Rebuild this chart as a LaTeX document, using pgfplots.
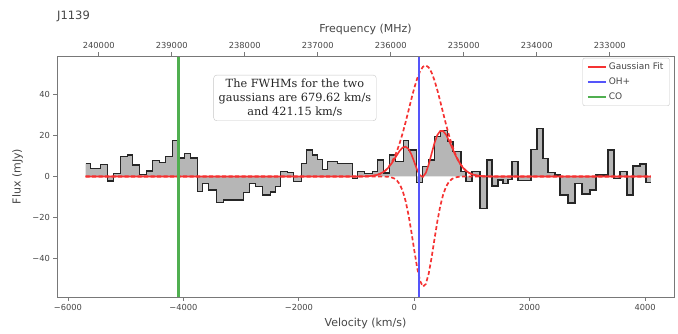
\documentclass[border=0pt]{standalone}
\usepackage{fontspec}
\setmainfont{DejaVu Sans}
\newfontfamily\boxfont{DejaVu Serif}
\usepackage{pgfplots}
\usepackage{pgfplotstable}
\pgfplotsset{compat=1.18}
\definecolor{fitred}{RGB}{245,50,50}
\definecolor{ohblue}{RGB}{85,85,250}
\definecolor{cogreen}{RGB}{80,175,80}
\definecolor{framegray}{RGB}{120,120,120}
\definecolor{textgray}{RGB}{70,70,70}
\definecolor{histfill}{RGB}{182,182,182}

\pgfplotstableread{
v f
-5692 6.2
-5606 4.0
-5433 6.0
-5312 -2.2
-5208 1.6
-5087 9.7
-4966 10.5
-4879 5.6
-4758 1.0
-4637 2.7
-4533 7.7
-4412 6.9
-4308 9.7
-4187 17.5
-4083 9.0
-3980 11.2
-3876 9.0
-3755 -7.4
-3668 -3.3
-3564 -6.6
-3426 -12.8
-3305 -11.5
-3184 -11.5
-3062 -11.5
-2959 -7.9
-2855 -3.3
-2751 -5.0
-2630 -9.0
-2492 -7.5
-2405 -5.0
-2319 2.3
-2197 2.0
-2094 -2.5
-1955 6.4
-1869 12.9
-1765 10.5
-1678 8.4
-1592 3.5
-1505 7.2
-1332 6.4
-1073 -0.9
-986 2.3
-865 1.6
-727 2.3
-640 8.0
-537 1.7
-433 10.5
-329 7.2
-191 17.5
-104 13.0
35 -3.0
138 4.8
242 8.0
346 19.4
450 22.4
571 17.0
674 12.1
813 2.3
899 -2.5
1003 2.3
1142 -15.5
1263 8.0
1349 -4.6
1453 -1.7
1539 -3.3
1626 -1.4
1695 7.2
1799 -2.0
2024 13.3
2128 23.5
2231 8.9
2318 1.9
2439 0.7
2526 -9.0
2664 -13.0
2785 -3.3
2906 -8.5
3045 -6.6
3148 0.7
3356 12.9
3460 -0.9
3564 2.3
3685 -9.0
3788 5.1
3910 6.1
4013 -3.0
4100 -3.0
}\hist

\pgfplotstableread{
v g
-5692 0
-1000 0.01
-900 0.04
-800 0.14
-700 0.44
-650 0.75
-600 1.22
-550 1.94
-500 2.98
-450 4.46
-400 6.47
-350 9.11
-300 12.45
-250 16.51
-200 21.24
-150 26.53
-100 32.15
-50 37.80
0 43.14
50 47.77
100 51.34
150 53.55
200 54.19
250 53.23
300 50.73
350 46.92
400 42.12
450 36.68
500 31.01
550 25.44
600 20.25
650 15.64
700 11.73
750 8.53
800 6.02
850 4.13
900 2.74
950 1.77
1000 1.11
1050 0.67
1100 0.40
1150 0.23
1200 0.13
1300 0.04
1400 0.01
4100 0
}\gone

\pgfplotstableread{
v g
-5692 0
-700 0
-600 -0.01
-550 -0.02
-500 -0.06
-450 -0.16
-400 -0.40
-350 -0.92
-300 -1.97
-250 -3.89
-200 -7.10
-150 -11.98
-100 -18.70
-50 -27.00
0 -36.06
50 -44.53
100 -50.86
150 -53.72
200 -52.47
250 -47.40
300 -39.60
350 -30.60
400 -21.87
450 -14.45
500 -8.83
550 -4.99
600 -2.61
650 -1.26
700 -0.56
750 -0.23
800 -0.09
850 -0.03
900 -0.01
1000 0
4100 0
}\gtwo

\pgfplotstableread{
v g
-5692 0
-1000 0.01
-900 0.04
-800 0.14
-700 0.44
-650 0.74
-600 1.21
-550 1.92
-500 2.92
-450 4.30
-400 6.07
-350 8.19
-300 10.48
-250 12.62
-200 14.15
-150 14.55
-100 13.45
-50 10.80
0 7.08
50 3.24
100 0.49
150 -0.17
200 1.72
250 5.82
300 11.13
350 16.32
400 20.25
450 22.23
500 22.18
550 20.44
600 17.64
650 14.38
700 11.16
750 8.30
800 5.93
850 4.09
900 2.73
950 1.77
1000 1.11
1050 0.67
1100 0.40
1150 0.23
1200 0.13
1300 0.04
1400 0.01
4100 0
}\gfit

\begin{document}
\begin{tikzpicture}
\begin{axis}[
  at={(0,0)}, anchor=south west,
  scale only axis, width=617bp, height=241bp,
  xmin=-6190, xmax=4500, ymin=-58.8, ymax=58.8,
  axis line style={framegray, line width=0.8bp},
  tick style={framegray, line width=0.8bp},
  major tick length=3.5bp,
  tick align=outside,
  xtick pos=left, ytick pos=left,
  scaled ticks=false,
  xtick={-6000,-4000,-2000,0,2000,4000},
  xticklabels={−6000,−4000,−2000,0,2000,4000},
  ytick={-40,-20,0,20,40},
  yticklabels={−40,−20,0,20,40},
  ticklabel style={font=\fontsize{8.3bp}{10bp}\selectfont, text=textgray},
  xlabel={Velocity (km/s)}, ylabel={Flux (mJy)},
  label style={font=\fontsize{11bp}{13bp}\selectfont, text=textgray},
  xlabel style={at={(axis description cs:0.5,-0.108)}, anchor=center},
  ylabel style={at={(axis description cs:-0.064,0.5)}, anchor=center},
  legend style={at={(axis description cs:0.993,0.992)}, anchor=north east,
    draw=black!22, rounded corners=2bp, fill=white,
    font=\fontsize{9bp}{11bp}\selectfont, text=textgray,
    inner xsep=4bp, inner ysep=2.5bp, row sep=3bp},
  legend cell align=left,
  legend image code/.code={\draw[#1, line width=2bp] (0bp,0bp) -- (18bp,0bp);},
]
\addplot[const plot, fill=histfill, draw=none, forget plot] table[x=v, y=f] {\hist} \closedcycle;
\addplot[const plot, draw=black!85, line width=1.4bp, forget plot] table[x=v, y=f] {\hist};
\addplot[fitred, line width=1.7bp, dash pattern=on 4bp off 2.5bp, forget plot] table[x=v, y=g] {\gone};
\addplot[fitred, line width=1.7bp, dash pattern=on 4bp off 2.5bp, forget plot] table[x=v, y=g] {\gtwo};
\addplot[fitred, line width=1.6bp] table[x=v, y=g] {\gfit};
\addlegendentry{Gaussian Fit}
\addplot[ohblue, line width=2.2bp] coordinates {(87,-58.8) (87,58.8)};
\addlegendentry{OH+}
\addplot[cogreen, line width=2.8bp] coordinates {(-4083,-58.8) (-4083,58.8)};
\addlegendentry{CO}
\node[draw=black!22, rounded corners=3bp, fill=white, align=center,
  font=\boxfont\fontsize{11.3bp}{14bp}\selectfont, text=black!85,
  inner xsep=5bp, inner ysep=4bp] at (axis description cs:0.3857,0.826)
  {The FWHMs for the two\\gaussians are 679.62 km/s\\and 421.15 km/s};
\end{axis}
\begin{axis}[
  at={(0,0)}, anchor=south west,
  scale only axis, width=617bp, height=241bp,
  xmin=232120, xmax=240572, x dir=reverse, ymin=0, ymax=1,
  axis x line*=top, axis y line=none,
  scaled x ticks=false,
  axis line style={framegray, line width=0.8bp},
  tick style={framegray, line width=0.8bp},
  major tick length=3.5bp,
  tick align=outside,
  xtick={233000,234000,235000,236000,237000,238000,239000,240000},
  xticklabels={233000,234000,235000,236000,237000,238000,239000,240000},
  ticklabel style={font=\fontsize{8.3bp}{10bp}\selectfont, text=textgray},
  xlabel={Frequency (MHz)},
  label style={font=\fontsize{11bp}{13bp}\selectfont, text=textgray},
  xlabel style={at={(axis description cs:0.5,1.108)}, anchor=center},
]
\addplot[draw=none] coordinates {(233000,0.5)};
\end{axis}
\node[anchor=base west, font=\fontsize{11.5bp}{13bp}\selectfont, text=textgray, inner sep=0pt]
  at (0bp,277bp) {J1139};
\pgfresetboundingbox
\useasboundingbox (-57bp,-37bp) rectangle (621bp,297bp);
\end{tikzpicture}
\end{document}
